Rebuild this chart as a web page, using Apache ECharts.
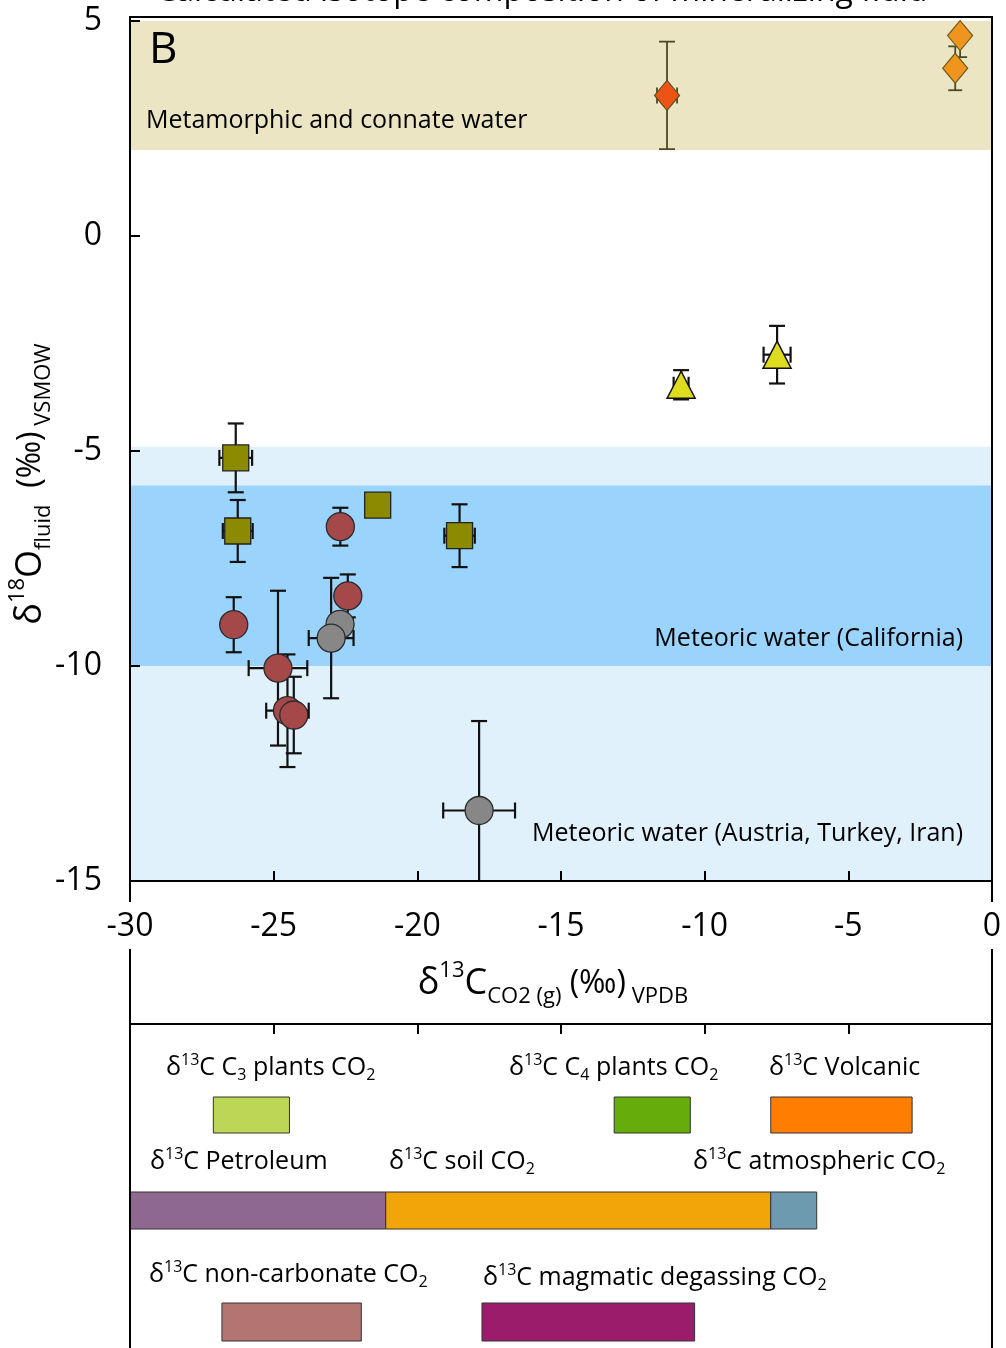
<!DOCTYPE html>
<html>
<head>
<meta charset="utf-8">
<script src="https://cdn.jsdelivr.net/npm/echarts@6/dist/echarts.min.js"></script>
<style>
  html, body { margin: 0; padding: 0; background: #fff; }
  #chart { width: 1006px; height: 1348px; }
</style>
</head>
<body>
<div id="chart"></div>
<script>
// ---- Samples: δ13C of CO2(g) (‰ VPDB) vs δ18O of fluid (‰ VSMOW), with errors ----
const squareX    = [-26.32, -26.25, -21.38, -18.53];
const squareY    = [-5.16, -6.86, -6.26, -6.97];
const squareXErr = [0.57, 0.52, 0, 0.53];
const squareYErr = [0.80, 0.72, 0, 0.73];

const redCircleX    = [-22.68, -22.42, -26.39, -24.85, -24.52, -24.30];
const redCircleY    = [-6.76, -8.37, -9.04, -10.05, -11.04, -11.14];
const redCircleXErr = [0, 0, 0, 1.02, 0.74, 0];
const redCircleYErr = [0.44, 0.50, 0.64, 1.80, 1.31, 0.89];

const grayCircleX    = [-22.69, -23.00, -17.85];
const grayCircleY    = [-9.03, -9.35, -13.36];
const grayCircleXErr = [0, 0.78, 1.25];
const grayCircleYErr = [0, 1.40, 2.08];

const triangleX    = [-10.82, -7.48];
const triangleY    = [-3.46, -2.76];
const triangleXErr = [0.26, 0.47];
const triangleYErr = [0.34, 0.67];

const redDiamondX    = [-11.31];
const redDiamondY    = [3.27];
const redDiamondXErr = [0.35];
const redDiamondYErr = [1.25];

const orangeDiamondX    = [-1.11, -1.28];
const orangeDiamondY    = [4.66, 3.90];
const orangeDiamondXErr = [0, 0];
const orangeDiamondYErr = [0.50, 0.51];

// ---- Water reservoirs (δ18O ranges, ‰ VSMOW) ----
const bandNames = ['Metamorphic and connate water', 'Meteoric water (Austria, Turkey, Iran)', 'Meteoric water (California)'];
const bandLow   = [2, -15, -10];
const bandHigh  = [5, -4.9, -5.8];

// ---- δ13C source ranges (‰ VPDB) ----
const sourceNames = ['C3 plants CO2', 'C4 plants CO2', 'Volcanic', 'Petroleum', 'soil CO2', 'atmospheric CO2', 'non-carbonate CO2', 'magmatic degassing CO2'];
const sourceMin   = [-27.10, -13.15, -7.70, -30.00, -21.10, -7.70, -26.80, -17.75];
const sourceMax   = [-24.45, -10.50, -2.78, -21.10, -7.70, -6.10, -21.95, -10.35];

// ---- Axis ticks ----
const xTicks = [-30, -25, -20, -15, -10, -5, 0];
const yTicks = [-15, -10, -5, 0, 5];

// ---------------------------------------------------------------------------
const FONT = '"Open Sans", "Noto Sans", sans-serif';
const chart = echarts.init(document.getElementById('chart'), null, { renderer: 'canvas' });

// layout of the source-range panel (rows of bars)
const sourceRow    = [0, 0, 0, 1, 1, 1, 2, 2];
const rowTop       = [1097, 1192, 1303];
const rowHeight    = [36, 37, 38];
const sourceColors = ['#BDD655', '#66AC0A', '#FF7D00', '#8F688F', '#F2A508', '#6E9AB0', '#B27571', '#9C1C6C'];
const sourceLabelPos = [[166, 1068], [509, 1068], [769, 1068], [150, 1162], [389, 1162], [693, 1162], [149, 1275], [483, 1278]];
const sourceRich = [
  '{n|δ}{sup|13}{n|C C}{sub|3}{n| plants CO}{sub|2}',
  '{n|δ}{sup|13}{n|C C}{sub|4}{n| plants CO}{sub|2}',
  '{n|δ}{sup|13}{n|C Volcanic}',
  '{n|δ}{sup|13}{n|C Petroleum}',
  '{n|δ}{sup|13}{n|C soil CO}{sub|2}',
  '{n|δ}{sup|13}{n|C atmospheric CO}{sub|2}',
  '{n|δ}{sup|13}{n|C non-carbonate CO}{sub|2}',
  '{n|δ}{sup|13}{n|C magmatic degassing CO}{sub|2}'
];
const richSmall = {
  n:   { fontSize: 25, fontFamily: FONT, color: '#000', lineHeight: 31, verticalAlign: 'middle' },
  sup: { fontSize: 16, fontFamily: FONT, color: '#000', lineHeight: 16, verticalAlign: 'top' },
  sub: { fontSize: 16, fontFamily: FONT, color: '#000', lineHeight: 16, verticalAlign: 'bottom' }
};
const richAxis = {
  b:   { fontSize: 36, fontFamily: FONT, color: '#000', lineHeight: 48, verticalAlign: 'middle' },
  p:   { fontSize: 32, fontFamily: FONT, color: '#000', lineHeight: 48, verticalAlign: 'middle' },
  sup: { fontSize: 22, fontFamily: FONT, color: '#000', lineHeight: 22, verticalAlign: 'top' },
  sub: { fontSize: 22, fontFamily: FONT, color: '#000', lineHeight: 22, verticalAlign: 'bottom' }
};

function errorBars(xs, ys, xe, ye, color, width, cap) {
  return {
    type: 'custom',
    xAxisIndex: 0, yAxisIndex: 0,
    clip: true, z: 3, silent: true,
    encode: { x: 0, y: 1 },
    data: xs.map((x, i) => [x, ys[i], xe[i], ye[i]]),
    renderItem(params, api) {
      const x = api.value(0), y = api.value(1), dx = api.value(2), dy = api.value(3);
      const style = { stroke: color, lineWidth: width, fill: null };
      const kids = [];
      const seg = (x1, y1, x2, y2) => kids.push({ type: 'line', shape: { x1, y1, x2, y2 }, style });
      if (dy > 0) {
        const t = api.coord([x, y + dy]), b = api.coord([x, y - dy]);
        seg(t[0], t[1], b[0], b[1]);
        seg(t[0] - cap, t[1], t[0] + cap, t[1]);
        seg(b[0] - cap, b[1], b[0] + cap, b[1]);
      }
      if (dx > 0) {
        const l = api.coord([x - dx, y]), r = api.coord([x + dx, y]);
        seg(l[0], l[1], r[0], r[1]);
        seg(l[0], l[1] - cap, l[0], l[1] + cap);
        seg(r[0], r[1] - cap, r[0], r[1] + cap);
      }
      return { type: 'group', children: kids };
    }
  };
}

function markers(xs, ys, symbol, size, color, border, bw) {
  return {
    type: 'scatter',
    xAxisIndex: 0, yAxisIndex: 0,
    z: 4, silent: true,
    symbol, symbolSize: size,
    itemStyle: { color, borderColor: border, borderWidth: bw, opacity: 1 },
    data: xs.map((x, i) => [x, ys[i]])
  };
}

const bandColors = ['#EBE5C4', '#E1F1FC', '#9AD3FC'];

const option = {
  animation: false,
  backgroundColor: '#fff',
  grid: [
    { left: 130, right: 14, top: 21, bottom: 467 },
    { left: 130, right: 14, top: 1024, bottom: -20 }
  ],
  xAxis: [
    {
      gridIndex: 0, type: 'value', min: xTicks[0], max: xTicks[xTicks.length - 1], interval: 5, z: 10,
      axisLine: { show: true, onZero: false, lineStyle: { color: '#000', width: 2 } },
      axisTick: { show: true, inside: true, length: 10, lineStyle: { color: '#000', width: 2 } },
      axisLabel: { show: true, margin: 30, fontSize: 32, fontFamily: FONT, color: '#000' },
      splitLine: { show: false }
    },
    {
      gridIndex: 1, type: 'value', position: 'top', min: xTicks[0], max: xTicks[xTicks.length - 1], interval: 5, z: 10,
      axisLine: { show: true, onZero: false, lineStyle: { color: '#000', width: 2 } },
      axisTick: { show: true, inside: true, length: 10, lineStyle: { color: '#000', width: 2 } },
      axisLabel: { show: false },
      splitLine: { show: false }
    }
  ],
  yAxis: [
    {
      gridIndex: 0, type: 'value', min: yTicks[0], max: yTicks[yTicks.length - 1], interval: 5, z: 10,
      axisLine: { show: true, onZero: false, lineStyle: { color: '#000', width: 2 } },
      axisTick: { show: true, inside: true, length: 10, lineStyle: { color: '#000', width: 2 } },
      axisLabel: { show: true, margin: 28, fontSize: 32, fontFamily: FONT, color: '#000' },
      splitLine: { show: false }
    },
    { gridIndex: 1, type: 'value', min: 0, max: 1, show: false }
  ],
  series: [
    {
      // water reservoir bands
      type: 'custom', xAxisIndex: 0, yAxisIndex: 0, z: 1, silent: true, clip: true,
      data: bandLow.map((lo, i) => [lo, bandHigh[i], i]),
      renderItem(params, api) {
        const lo = api.value(0), hi = api.value(1), i = api.value(2);
        const p0 = api.coord([xTicks[0], hi]);
        const p1 = api.coord([xTicks[xTicks.length - 1], lo]);
        return { type: 'rect', shape: { x: p0[0], y: p0[1], width: p1[0] - p0[0], height: p1[1] - p0[1] },
                 style: { fill: bandColors[i] } };
      }
    },
    errorBars(squareX, squareY, squareXErr, squareYErr, '#111', 2.2, 8),
    errorBars(redCircleX, redCircleY, redCircleXErr, redCircleYErr, '#111', 2.2, 8),
    errorBars(grayCircleX, grayCircleY, grayCircleXErr, grayCircleYErr, '#111', 2.2, 8),
    errorBars(triangleX, triangleY, triangleXErr, triangleYErr, '#111', 2.2, 8),
    errorBars(redDiamondX, redDiamondY, redDiamondXErr, redDiamondYErr, '#4B4A24', 1.8, 8),
    errorBars(orangeDiamondX, orangeDiamondY, orangeDiamondXErr, orangeDiamondYErr, '#4B4A24', 1.8, 7),
    markers(squareX, squareY, 'rect', 26, '#8C8A00', '#222', 1.3),
    markers(redCircleX, redCircleY, 'circle', 28, '#A4484A', '#2a2a2a', 1.3),
    markers(grayCircleX, grayCircleY, 'circle', 28, '#878787', '#2a2a2a', 1.3),
    markers(triangleX, triangleY, 'triangle', [28, 27], '#DFDB1E', '#111', 1.5),
    markers(redDiamondX, redDiamondY, 'diamond', [25, 30], '#EE5316', '#555024', 1.2),
    markers(orangeDiamondX, orangeDiamondY, 'diamond', [25, 30], '#EF951E', '#6b5a20', 1.2),
    {
      // δ13C source ranges
      type: 'custom', xAxisIndex: 1, yAxisIndex: 1, z: 2, silent: true,
      data: sourceMin.map((lo, i) => [lo, sourceMax[i], i]),
      renderItem(params, api) {
        const lo = api.value(0), hi = api.value(1), i = api.value(2);
        const a = api.coord([lo, 0]), b = api.coord([hi, 0]);
        const r = sourceRow[i];
        return { type: 'rect',
                 shape: { x: a[0], y: rowTop[r], width: b[0] - a[0], height: rowHeight[r] },
                 style: { fill: sourceColors[i], stroke: '#333', lineWidth: 1 } };
      }
    }
  ],
  graphic: [
    // plot frame and the frame lines running between the two panels
    { type: 'polyline', z: 100, shape: { points: [[130, 881], [130, 17], [992, 17], [992, 881]] },
      style: { stroke: '#000', lineWidth: 2, fill: null } },
    { type: 'line', z: 100, shape: { x1: 130, y1: 881, x2: 130, y2: 902 }, style: { stroke: '#000', lineWidth: 2 } },
    { type: 'line', z: 100, shape: { x1: 992, y1: 881, x2: 992, y2: 902 }, style: { stroke: '#000', lineWidth: 2 } },
    { type: 'line', z: 100, shape: { x1: 130, y1: 949, x2: 130, y2: 1348 }, style: { stroke: '#000', lineWidth: 2 } },
    { type: 'line', z: 100, shape: { x1: 992, y1: 949, x2: 992, y2: 1348 }, style: { stroke: '#000', lineWidth: 2 } },

    // heading (runs off the top edge)
    { type: 'text', z: 100, x: 156, y: -8,
      style: { text: 'Calculated isotope composition of mineralizing fluid', fontSize: 32, fontFamily: FONT,
               fill: '#000', align: 'left', verticalAlign: 'middle' } },

    // panel letter and reservoir names
    { type: 'text', z: 100, x: 149, y: 50,
      style: { text: 'B', fontSize: 44, fontFamily: FONT, fill: '#000', align: 'left', verticalAlign: 'middle' } },
    { type: 'text', z: 100, x: 146, y: 121,
      style: { text: bandNames[0], fontSize: 25, fontFamily: FONT, fill: '#000', align: 'left', verticalAlign: 'middle' } },
    { type: 'text', z: 100, x: 963, y: 834,
      style: { text: bandNames[1], fontSize: 25, fontFamily: FONT, fill: '#000', align: 'right', verticalAlign: 'middle' } },
    { type: 'text', z: 100, x: 963, y: 639,
      style: { text: bandNames[2], fontSize: 25, fontFamily: FONT, fill: '#000', align: 'right', verticalAlign: 'middle' } },

    // axis titles
    { type: 'text', z: 100, x: 553, y: 984,
      style: {
        text: '{b|δ}{sup|13}{b|C}{sub|CO2 (g)}{p| (‰)}{sub| VPDB}',
        align: 'center', verticalAlign: 'middle', rich: richAxis
      } },
    { type: 'text', z: 100, x: 31, y: 484, rotation: Math.PI / 2,
      style: {
        text: '{b|δ}{sup|18}{b|O}{sub|fluid}{p|  (‰)}{sub| VSMOW}',
        align: 'center', verticalAlign: 'middle', rich: richAxis
      } }
  ].concat(sourceRich.map((t, i) => ({
    type: 'text', z: 100, x: sourceLabelPos[i][0], y: sourceLabelPos[i][1],
    style: { text: t, rich: richSmall, align: 'left', verticalAlign: 'middle' }
  })))
};

chart.setOption(option);
</script>
</body>
</html>
